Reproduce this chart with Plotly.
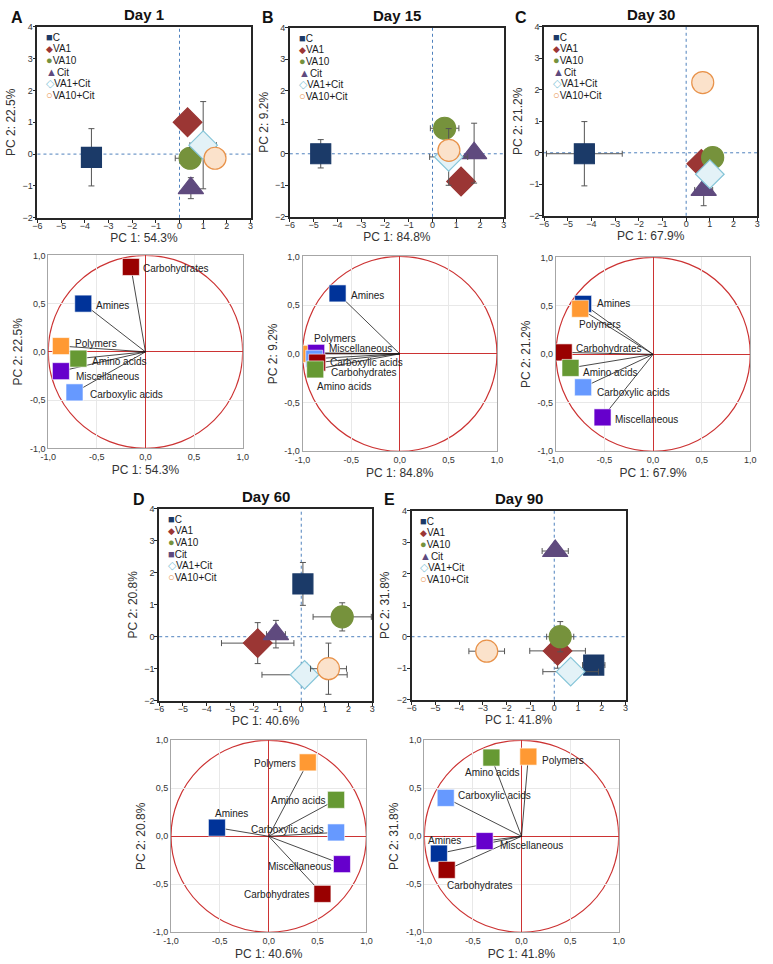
import plotly.graph_objects as go

W, H = 773, 964

# ---------------- data ----------------
GROUPS = ["C", "VA1", "VA10", "Cit", "VA1+Cit", "VA10+Cit"]
DAYS = ["Day 1", "Day 15", "Day 30", "Day 60", "Day 90"]
LETTERS = ["A", "B", "C", "D", "E"]
PC1_VAR = ["54.3%", "84.8%", "67.9%", "40.6%", "41.8%"]
PC2_VAR = ["22.5%", "9.2%", "21.2%", "20.8%", "31.8%"]

# scores (order as GROUPS): PC1 mean, PC2 mean, PC1 error, PC2 error
D1_PC1 = [-3.72, 0.34, 0.45, 0.48, 1.0, 1.5]
D1_PC2 = [-0.1, 1.0, -0.13, -1.07, 0.28, -0.13]
D1_E1 = [0.1, 0.1, 0.63, 0.1, 0.56, 0.1]
D1_E2 = [0.9, 0.35, 0.1, 0.33, 1.37, 0.1]

D15_PC1 = [-4.7, 1.2, 0.51, 1.75, 0.68, 0.69]
D15_PC2 = [0.0, -0.88, 0.81, 0.02, -0.1, 0.11]
D15_E1 = [0.1, 0.1, 0.6, 0.1, 0.8, 0.1]
D15_E2 = [0.45, 0.1, 0.1, 0.95, 0.9, 0.1]

D30_PC1 = [-4.3, 0.64, 1.12, 0.74, 1.0, 0.7]
D30_PC2 = [-0.03, -0.35, -0.15, -1.18, -0.68, 2.23]
D30_E1 = [1.6, 0.1, 0.1, 0.38, 0.1, 0.1]
D30_E2 = [1.02, 0.1, 0.1, 0.5, 0.1, 0.1]

D60_PC1 = [0.07, -1.84, 1.73, -1.07, 0.14, 1.15]
D60_PC2 = [1.65, -0.2, 0.62, 0.08, -1.19, -1.0]
D60_E1 = [0.1, 1.53, 1.23, 0.4, 1.8, 0.76]
D60_E2 = [0.67, 0.64, 0.44, 0.43, 0.36, 0.8]

D90_PC1 = [1.66, 0.14, 0.25, 0.04, 0.69, -2.84]
D90_PC2 = [-0.9, -0.45, 0.0, 2.72, -1.11, -0.46]
D90_E1 = [0.47, 1.17, 0.57, 0.55, 1.17, 0.75]
D90_E2 = [0.1, 0.55, 0.48, 0.1, 0.1, 0.1]

# loadings (order as VARS)
VARS = ["Amines", "Polymers", "Miscellaneous", "Carboxylic acids", "Carbohydrates", "Amino acids"]
L1_PC1 = [-0.64, -0.87, -0.87, -0.73, -0.15, -0.69]
L1_PC2 = [0.50, 0.06, -0.20, -0.42, 0.88, -0.07]
L15_PC1 = [-0.64, -0.91, -0.86, -0.88, -0.85, -0.87]
L15_PC2 = [0.62, 0.0, 0.01, -0.05, -0.09, -0.16]
L30_PC1 = [-0.72, -0.75, -0.52, -0.72, -0.92, -0.85]
L30_PC2 = [0.52, 0.47, -0.65, -0.34, 0.02, -0.14]
L60_PC1 = [-0.53, 0.40, 0.75, 0.69, 0.55, 0.69]
L60_PC2 = [0.09, 0.77, -0.29, 0.04, -0.60, 0.38]
L90_PC1 = [-0.85, 0.07, -0.38, -0.78, -0.77, -0.31]
L90_PC2 = [-0.18, 0.83, -0.05, 0.40, -0.35, 0.82]

SCORES = [
    (D1_PC1, D1_PC2, D1_E1, D1_E2),
    (D15_PC1, D15_PC2, D15_E1, D15_E2),
    (D30_PC1, D30_PC2, D30_E1, D30_E2),
    (D60_PC1, D60_PC2, D60_E1, D60_E2),
    (D90_PC1, D90_PC2, D90_E1, D90_E2),
]
LOADS = [(L1_PC1, L1_PC2), (L15_PC1, L15_PC2), (L30_PC1, L30_PC2),
         (L60_PC1, L60_PC2), (L90_PC1, L90_PC2)]

# ---------------- styles / layout ----------------
G_SYMBOL = ["square", "diamond", "circle", "triangle-up", "diamond", "circle"]
G_FILL = ["#1B3A68", "#9B3634", "#76923C", "#5F4A7E", "#E3F2F7", "#FBE2CB"]
G_LINE = ["#1B3A68", "#9B3634", "#76923C", "#5F4A7E", "#86C5D8", "#E8924A"]
G_SIZE = [20, 22, 22, 22, 22, 22]
LEG_SYM = ["■", "◆", "●", "▲", "◇", "○"]
LEG_SYM_D60 = ["■", "◆", "●", "■", "◇", "○"]
LEG_SYM_SIZE = [11, 9, 11, 11, 11, 11]

V_COLOR = ["#003399", "#FF9933", "#6600CC", "#6699FF", "#990000", "#669933"]
# label offsets (px, right / down) and anchor, order as VARS
LBL_DX = [
    [11, 12, 13, 13, 10, 12],
    [11, 1, 11, 14, 12, 0],
    [12, -3, 10, 12, 10, 11],
    [-4, -10, -9, -10, -10, -9],
    [-13, 12, 13, 10, -2, 1],
]
LBL_DY = [
    [2, -3, 5, 2, 2, 3],
    [2, -15, -4, 4, 10, 17],
    [0, 16, 2, 5, -4, 5],
    [-14, 1, 2, -3, 1, 1],
    [-13, 4, 4, -2, 16, 15],
]
LBL_ANCHOR = [
    ["left"] * 6,
    ["left"] * 6,
    ["left"] * 6,
    ["left", "right", "right", "right", "right", "right"],
    ["left", "left", "left", "left", "left", "center"],
]

SC_BOX = [(30, 247, 22, 215), (287, 505, 23, 214), (546, 763, 22, 213),
          (154, 371, 509, 703), (411, 629, 511, 702)]
LD_BOX = [(41, 239, 253, 448), (300, 498, 254, 451), (558, 756, 255, 451),
          (166, 365, 743, 937), (424, 622, 743, 937)]
LETTER_POS = [(9, 13), (265, 13), (522, 13), (133, 500), (389, 500)]

FONT = "Arial, Liberation Sans, sans-serif"


def xd(a, b):
    return [a / W, b / W]


def yd(t, b):
    return [1 - b / H, 1 - t / H]


def refs(i):
    return ("x" if i == 1 else f"x{i}"), ("y" if i == 1 else f"y{i}")


fig = go.Figure()
layout = dict(width=W, height=H, margin=dict(l=0, r=0, t=0, b=0),
              paper_bgcolor="white", plot_bgcolor="white", showlegend=False,
              font=dict(family=FONT, color="#222"))
shapes = []
annotations = []

# ---------- score plots ----------
for d in range(5):
    ax = d + 1
    xr, yr = refs(ax)
    xs, ys, e1, e2 = SCORES[d]
    for g in range(6):
        fig.add_trace(go.Scatter(
            x=[xs[g]], y=[ys[g]], mode="markers", name=GROUPS[g],
            marker=dict(symbol=G_SYMBOL[g], size=G_SIZE[g], color=G_FILL[g],
                        line=dict(color=G_LINE[g], width=1.2)),
            error_x=dict(type="data", array=[e1[g]], color="#555555", thickness=1, width=3),
            error_y=dict(type="data", array=[e2[g]], color="#555555", thickness=1, width=3),
            xaxis=xr, yaxis=yr, showlegend=False))
    l, r, t, b = SC_BOX[d]
    axname = "xaxis" if ax == 1 else f"xaxis{ax}"
    ayname = "yaxis" if ax == 1 else f"yaxis{ax}"
    common = dict(showgrid=False, zeroline=False, showline=True, mirror=True,
                  linecolor="#262626", linewidth=1.6, ticks="outside", ticklen=3,
                  tickcolor="#262626", tickfont=dict(size=9, color="#333"), dtick=1)
    layout[axname] = dict(domain=xd(l, r), range=[-6, 3], anchor=yr, ticklabelstandoff=-4,
                          title=dict(text=f"PC 1: {PC1_VAR[d]}", font=dict(size=12, color="#333"), standoff=2),
                          **common)
    layout[ayname] = dict(domain=yd(t, b), range=[-2, 4], anchor=xr, ticklabelstandoff=-2,
                          title=dict(text=f"PC 2: {PC2_VAR[d]}", font=dict(size=12, color="#333"), standoff=4),
                          **common)
    shapes.append(dict(type="line", xref=xr, yref=f"{yr} domain", x0=0, x1=0, y0=0, y1=1,
                       line=dict(color="#4F81BD", width=1, dash="dot"), layer="below"))
    shapes.append(dict(type="line", xref=f"{xr} domain", yref=yr, x0=0, x1=1, y0=0, y1=0,
                       line=dict(color="#4F81BD", width=1, dash="dot"), layer="below"))
    annotations.append(dict(text=f"<b>{DAYS[d]}</b>", x=(l + r) / 2 / W, y=1 - (t - 12) / H,
                            xref="paper", yref="paper", showarrow=False,
                            font=dict(size=15, color="#111"), xanchor="center", yanchor="middle"))
    lx, ly = LETTER_POS[d]
    annotations.append(dict(text=f"<b>{LETTERS[d]}</b>", x=lx / W, y=1 - ly / H,
                            xref="paper", yref="paper", showarrow=False,
                            font=dict(size=16, color="#111"), xanchor="center", yanchor="middle"))
    syms = LEG_SYM_D60 if d == 3 else LEG_SYM
    for g in range(6):
        col = G_LINE[g] if g >= 4 else G_FILL[g]
        annotations.append(dict(
            text=f"<span style='color:{col};font-size:{LEG_SYM_SIZE[g]}px'>{syms[g]}</span>{GROUPS[g]}",
            x=(l + 7) / W, y=1 - (t + 10 + g * 11.8) / H, xref="paper", yref="paper",
            showarrow=False, xanchor="left", yanchor="middle",
            font=dict(size=10, color="#1a1a1a")))

# ---------- loading plots ----------
red = "#CC3333"
for d in range(5):
    ax = d + 6
    xr, yr = refs(ax)
    px, py = LOADS[d]
    lx, ly = [], []
    for v in range(len(VARS)):
        lx += [0, px[v], None]
        ly += [0, py[v], None]
    fig.add_trace(go.Scatter(x=lx, y=ly, mode="lines", line=dict(color="#1a1a1a", width=0.8),
                             xaxis=xr, yaxis=yr, showlegend=False, hoverinfo="skip"))
    fig.add_trace(go.Scatter(
        x=px, y=py, mode="markers", text=VARS,
        marker=dict(symbol="square", size=17, color=V_COLOR,
                    line=dict(color="rgba(255,255,255,0.6)", width=1)),
        xaxis=xr, yaxis=yr, showlegend=False, cliponaxis=False))
    for v in range(len(VARS)):
        annotations.append(dict(
            text=VARS[v], x=px[v], y=py[v], xref=xr, yref=yr, showarrow=False,
            xanchor=LBL_ANCHOR[d][v], yanchor="middle",
            xshift=LBL_DX[d][v], yshift=-LBL_DY[d][v],
            font=dict(size=10, color="#222")))
    l, r, t, b = LD_BOX[d]
    axname = f"xaxis{ax}"
    ayname = f"yaxis{ax}"
    common = dict(showgrid=True, gridcolor="#E8E8E8", gridwidth=1,
                  zeroline=True, zerolinecolor=red, zerolinewidth=1.2,
                  showline=True, mirror=True, linecolor="#A6A6A6", linewidth=1,
                  ticks="", tickfont=dict(size=9, color="#333"),
                  tickvals=[-1, -0.5, 0, 0.5, 1], ticktext=["-1,0", "-0,5", "0,0", "0,5", "1,0"])
    layout[axname] = dict(domain=xd(l, r), range=[-1, 1], anchor=yr,
                          title=dict(text=f"PC 1: {PC1_VAR[d]}", font=dict(size=12, color="#333"), standoff=4),
                          **common)
    layout[ayname] = dict(domain=yd(t, b), range=[-1, 1], anchor=xr,
                          title=dict(text=f"PC 2: {PC2_VAR[d]}", font=dict(size=12, color="#333"), standoff=4),
                          **common)
    shapes.append(dict(type="circle", xref=xr, yref=yr, x0=-1, y0=-1, x1=1, y1=1,
                       line=dict(color=red, width=1.2), layer="below"))

layout["shapes"] = shapes
layout["annotations"] = annotations
fig.update_layout(**layout)
fig.write_html("out.html", config={"displayModeBar": False},
               post_script="document.body.style.margin='0px';")
